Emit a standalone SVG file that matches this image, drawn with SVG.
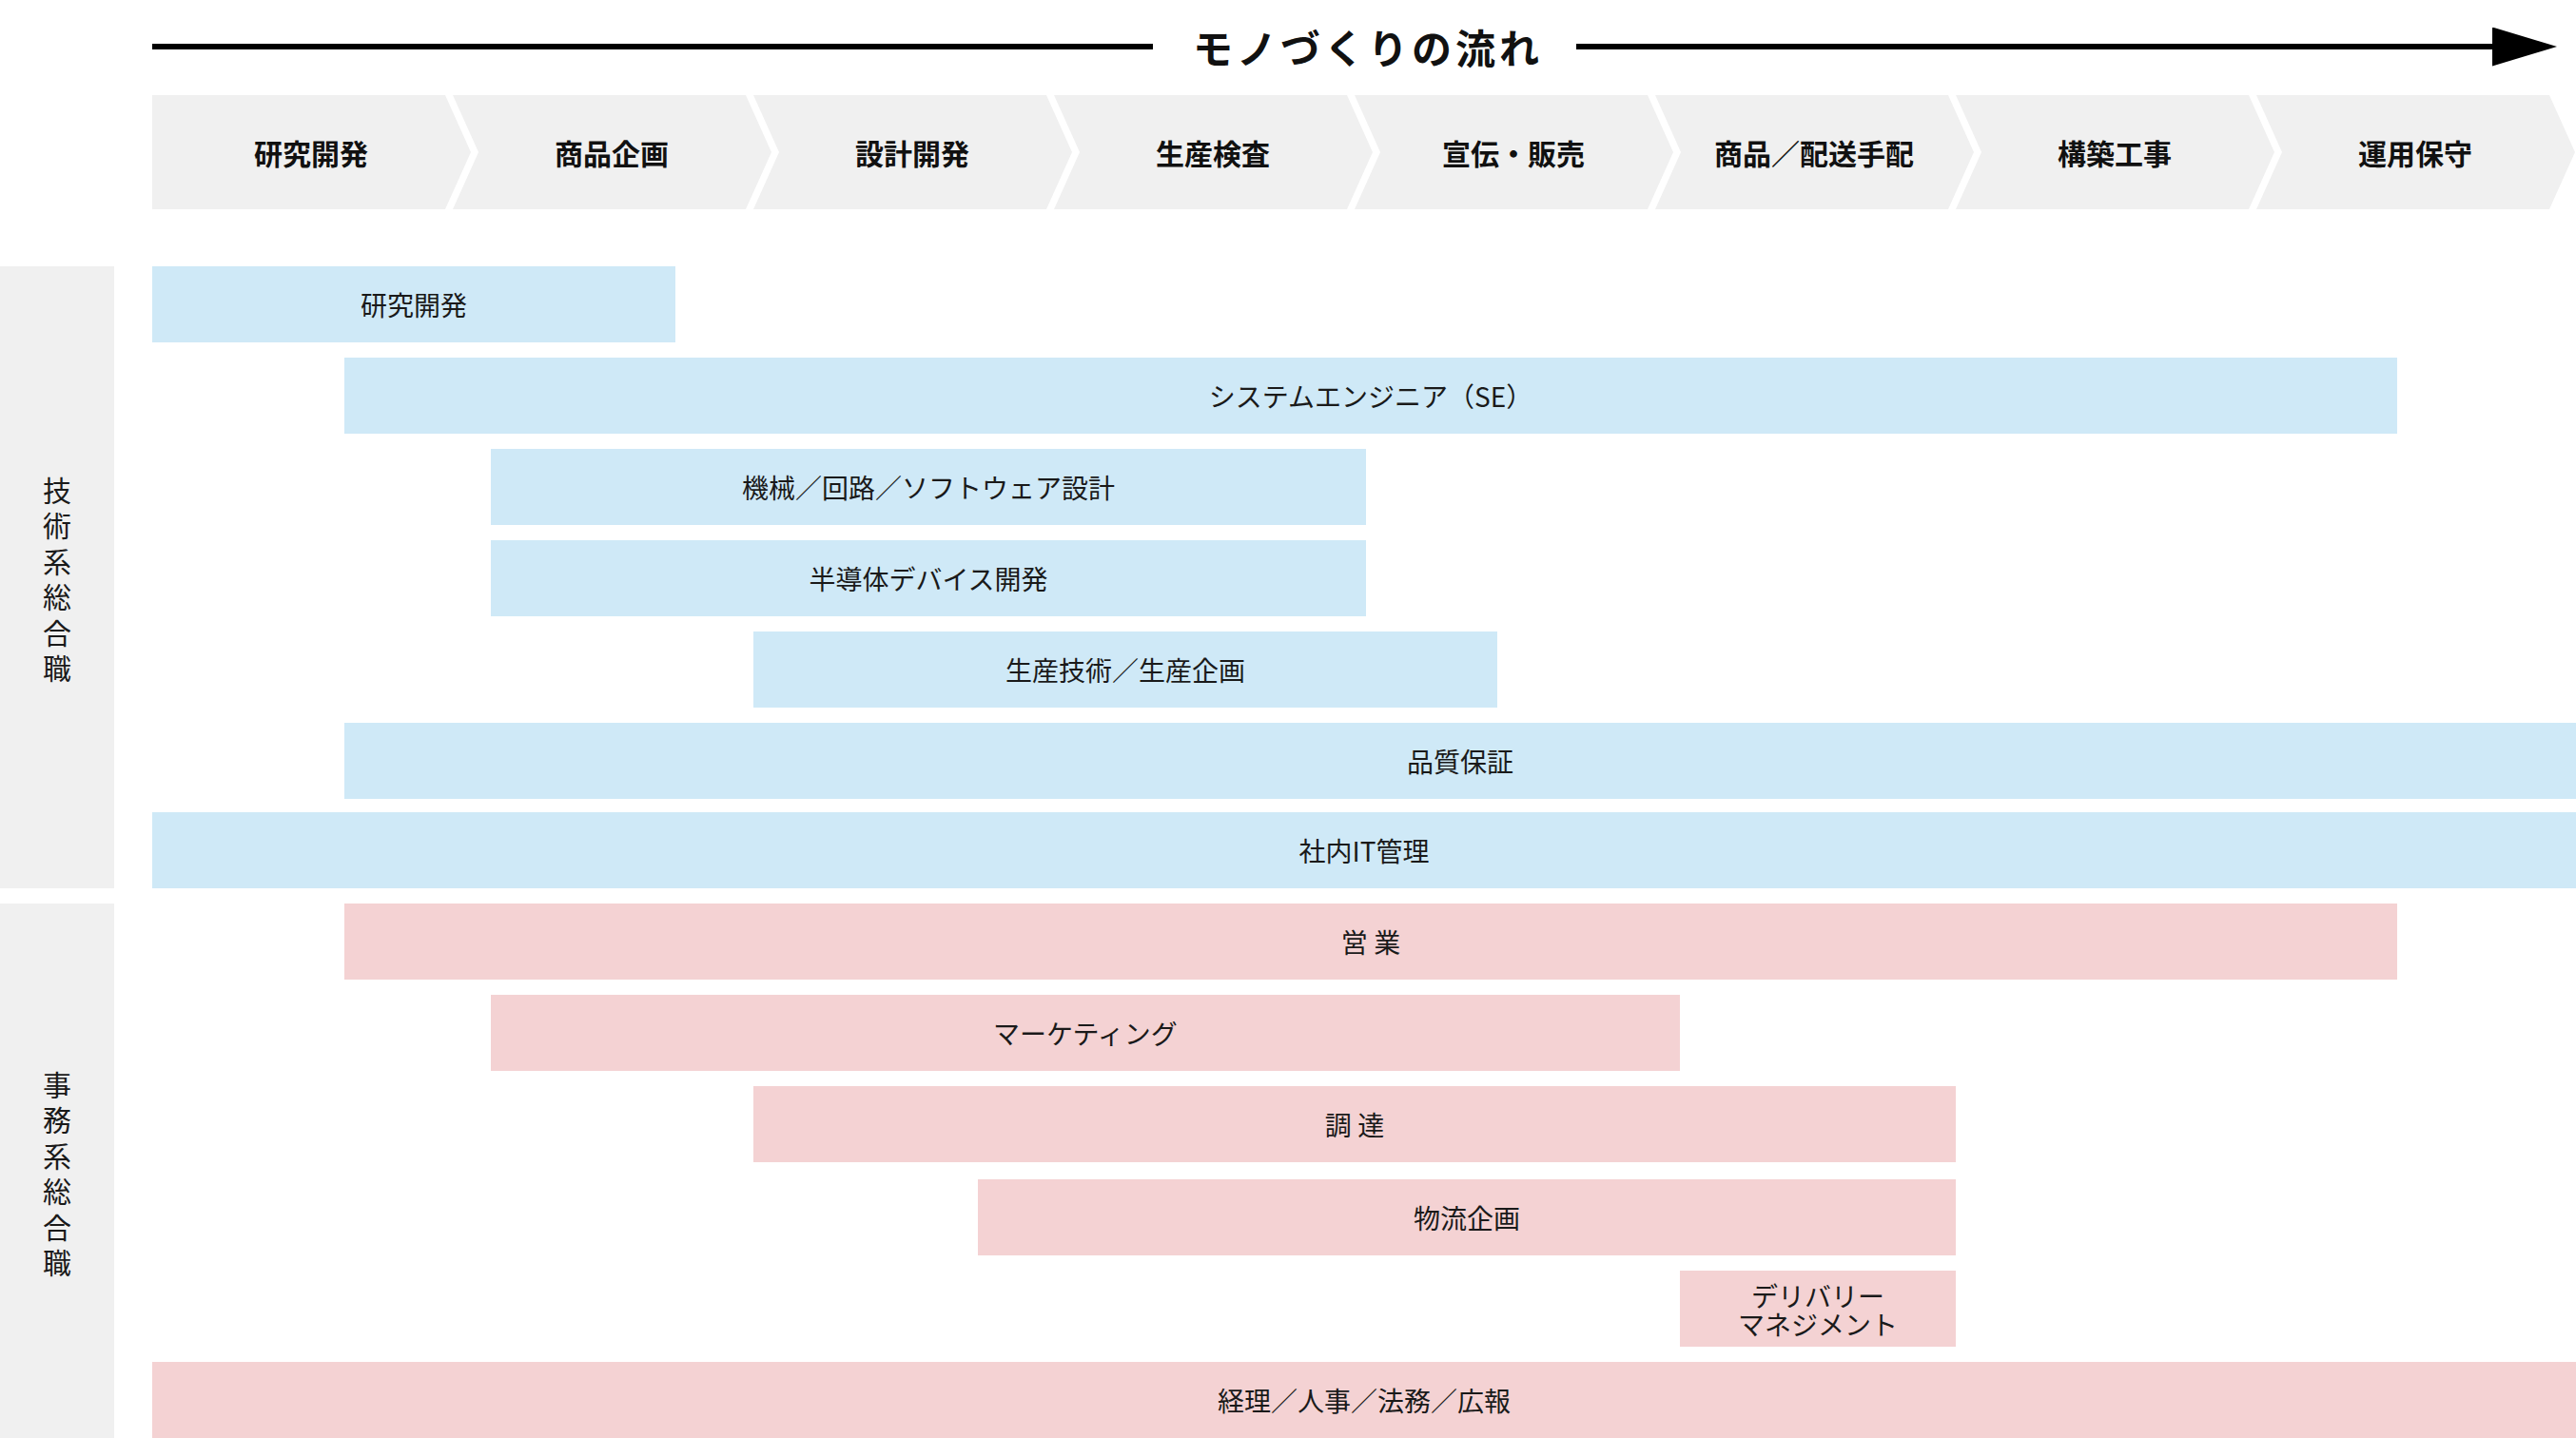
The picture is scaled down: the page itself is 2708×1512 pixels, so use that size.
<svg xmlns="http://www.w3.org/2000/svg" width="2708" height="1512" viewBox="0 0 2708 1512">
<style>
text{font-family:"Noto Sans CJK JP","Noto Sans",sans-serif;fill:#1a1a1a}
.chev{fill:#f0f0f0}
.step{font-size:30px;font-weight:700;text-anchor:middle;dominant-baseline:central;fill:#111}
.cat{fill:#f0f0f0}
.vlab{font-size:30px;text-anchor:middle;writing-mode:vertical-rl;letter-spacing:7.5px}
.tech{fill:#cfe9f7}
.office{fill:#f4d2d3}
.lab{font-size:28px;text-anchor:middle;dominant-baseline:central}
.title{font-size:42px;font-weight:700;text-anchor:middle;dominant-baseline:central;letter-spacing:4px;fill:#111}
.flow{stroke:#000;stroke-width:6;fill:none}
</style>
<defs>
<marker id="ah" markerUnits="userSpaceOnUse" viewBox="0 0 68 41" markerWidth="68" markerHeight="41" refX="2" refY="20.5" orient="auto">
<path d="M0,0 L68,20.5 L0,41 z" fill="#000"/>
</marker>
</defs>

<g id="connectors">
<line class="flow" x1="160" y1="49" x2="1212" y2="49"/>
<line class="flow" x1="1657" y1="49" x2="2622" y2="49" marker-end="url(#ah)"/>
</g>
<g id="title"><text class="title" x="1438" y="48">モノづくりの流れ</text></g>

<g id="steps">
<g id="step1"><polygon class="chev" points="160,100 468,100 495,160 468,220 160,220"/><text class="step" x="327" y="160">研究開発</text></g>
<g id="step2"><polygon class="chev" points="476,100 784,100 811,160 784,220 476,220 503,160"/><text class="step" x="643" y="160">商品企画</text></g>
<g id="step3"><polygon class="chev" points="792,100 1100,100 1127,160 1100,220 792,220 819,160"/><text class="step" x="959" y="160">設計開発</text></g>
<g id="step4"><polygon class="chev" points="1108,100 1416,100 1443,160 1416,220 1108,220 1135,160"/><text class="step" x="1275" y="160">生産検査</text></g>
<g id="step5"><polygon class="chev" points="1424,100 1732,100 1759,160 1732,220 1424,220 1451,160"/><text class="step" x="1591" y="160">宣伝・販売</text></g>
<g id="step6"><polygon class="chev" points="1740,100 2048,100 2075,160 2048,220 1740,220 1767,160"/><text class="step" x="1907" y="160">商品／配送手配</text></g>
<g id="step7"><polygon class="chev" points="2056,100 2364,100 2391,160 2364,220 2056,220 2083,160"/><text class="step" x="2223" y="160">構築工事</text></g>
<g id="step8"><polygon class="chev" points="2372,100 2680,100 2707,160 2680,220 2372,220 2399,160"/><text class="step" x="2539" y="160">運用保守</text></g>
</g>

<g id="cat-tech">
<rect class="cat" x="0" y="280" width="120" height="654"/>
<text class="vlab" x="60" y="613">技術系総合職</text>
</g>
<g id="cat-office">
<rect class="cat" x="0" y="950" width="120" height="562"/>
<text class="vlab" x="60" y="1238">事務系総合職</text>
</g>

<g id="job-rd"><rect class="tech" x="160" y="280" width="550" height="80"/><text class="lab" x="435" y="320">研究開発</text></g>
<g id="job-se"><rect class="tech" x="362" y="376" width="2158" height="80"/><text class="lab" x="1441" y="416">システムエンジニア（SE）</text></g>
<g id="job-design"><rect class="tech" x="516" y="472" width="920" height="80"/><text class="lab" x="976" y="512">機械／回路／ソフトウェア設計</text></g>
<g id="job-semi"><rect class="tech" x="516" y="568" width="920" height="80"/><text class="lab" x="976" y="608">半導体デバイス開発</text></g>
<g id="job-prod"><rect class="tech" x="792" y="664" width="782" height="80"/><text class="lab" x="1183" y="704">生産技術／生産企画</text></g>
<g id="job-qa"><rect class="tech" x="362" y="760" width="2346" height="80"/><text class="lab" x="1535" y="800">品質保証</text></g>
<g id="job-it"><rect class="tech" x="160" y="854" width="2548" height="80"/><text class="lab" x="1434" y="894">社内IT管理</text></g>

<g id="job-sales"><rect class="office" x="362" y="950" width="2158" height="80"/><text class="lab" x="1441" y="990">営 業</text></g>
<g id="job-mkt"><rect class="office" x="516" y="1046" width="1250" height="80"/><text class="lab" x="1141" y="1086">マーケティング</text></g>
<g id="job-proc"><rect class="office" x="792" y="1142" width="1264" height="80"/><text class="lab" x="1424" y="1182">調 達</text></g>
<g id="job-logi"><rect class="office" x="1028" y="1240" width="1028" height="80"/><text class="lab" x="1542" y="1280">物流企画</text></g>
<g id="job-deliv"><rect class="office" x="1766" y="1336" width="290" height="80"/><text class="lab"><tspan x="1911" y="1362">デリバリー</tspan><tspan x="1911" y="1392">マネジメント</tspan></text></g>
<g id="job-admin"><rect class="office" x="160" y="1432" width="2548" height="80"/><text class="lab" x="1434" y="1472">経理／人事／法務／広報</text></g>
</svg>
